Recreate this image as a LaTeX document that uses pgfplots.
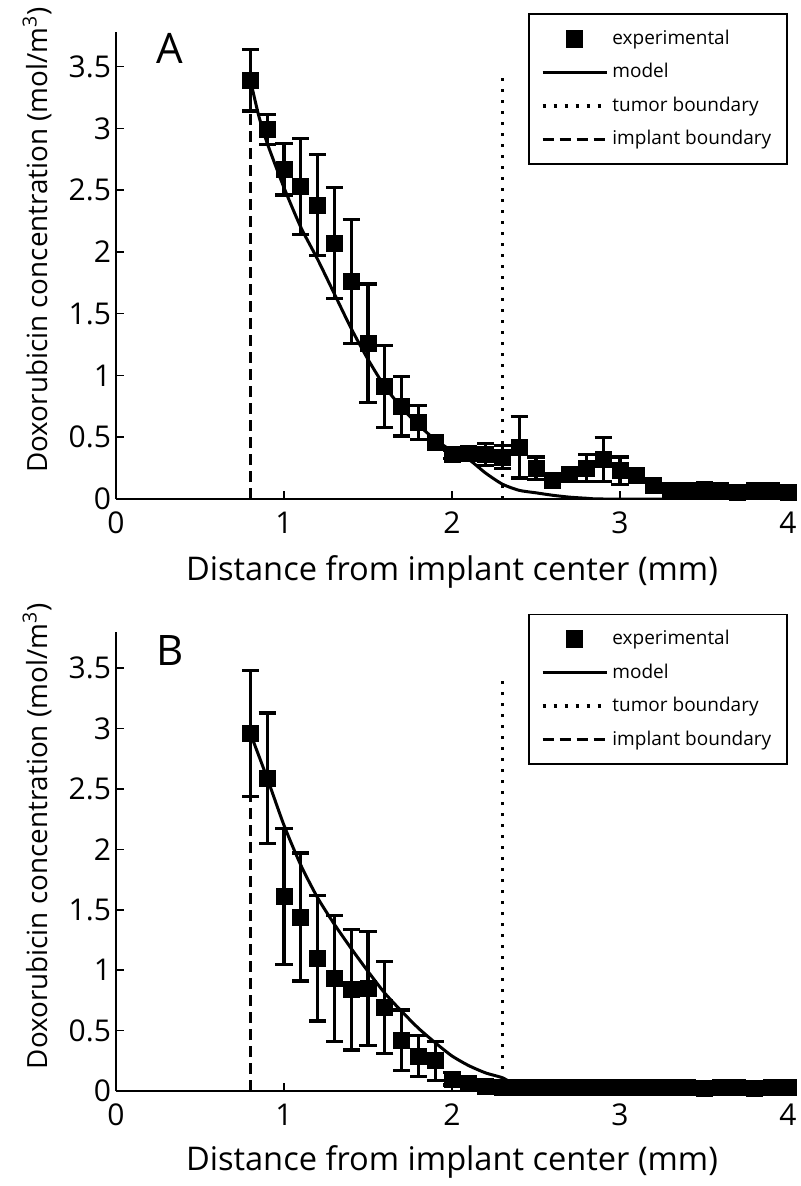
\documentclass[border=0pt]{standalone}
\usepackage{pgfplots}
\pgfplotsset{compat=1.18}
\usepackage{fontspec}
\setmainfont{Open Sans}

\pgfplotsset{
  panel/.style={
    scale only axis,
    width=336pt,
    xmin=0, xmax=4, ymin=0,
    axis x line*=bottom, axis y line*=left,
    axis line style={line width=0.8pt},
    tick style={line width=0.8pt, black},
    major tick length=4pt,
    tick align=inside,
    xtick={0,1,2,3,4},
    ytick={0,0.5,1,1.5,2,2.5,3,3.5},
    /pgf/number format/assume math mode=true,
    tick label style={font=\fontsize{15}{17}\selectfont},
    yticklabel style={xshift=1pt},
    xticklabel style={yshift=-3pt},
    xlabel style={font=\fontsize{16.3}{19}\selectfont},
    ylabel style={font=\fontsize{13.9}{16}\selectfont},
    xlabel={Distance from implant center (mm)},
    ylabel={Doxorubicin concentration (mol/m$^{\mathrm{3}}$)},
    ylabel style={at={(axis description cs:-0.1176,0.555)}, anchor=center},
    legend style={
      at={(1.0,1.04)}, anchor=north east, draw=black, line width=0.8pt,
      font=\fontsize{9.5}{11.5}\selectfont, row sep=4pt,
      inner xsep=6pt, inner ysep=6pt,
      /tikz/every even column/.append style={column sep=2pt},
      legend cell align=left,
    },
    legend image code/.code={\draw[mark repeat=2,mark phase=2,#1] plot coordinates {(0pt,0pt)(16pt,0pt)(32pt,0pt)};},
    exp/.style={only marks, mark=square*, mark size=4pt, black,
      error bars/.cd, y dir=both, y explicit,
      error bar style={line width=1.6pt, black},
      error mark options={rotate=90, mark size=4.3pt, line width=1.6pt, black}},
    mdl/.style={black, line width=1.5pt, mark=none},
    tb/.style={black, line width=1.8pt, dash pattern=on 1.7pt off 3.8pt, mark=none},
    ib/.style={black, line width=1.6pt, dash pattern=on 5.5pt off 3pt, mark=none},
  }
}

\begin{document}
\begin{tikzpicture}
\useasboundingbox (0pt,0pt) rectangle (400pt,-593pt);

% ---------------- Panel A ----------------
\begin{axis}[panel, at={(58pt,-249.5pt)}, anchor=south west,
  height=233.5pt, ymax=3.78,
  xlabel style={at={(axis description cs:0.5,0)}, anchor=center, yshift=-36.5pt}]
\addplot[exp] table[x=x, y=y, y error=e] {
x y e
0.8 3.39 0.25
0.9 2.99 0.12
1.0 2.67 0.21
1.1 2.53 0.39
1.2 2.38 0.41
1.3 2.07 0.45
1.4 1.76 0.50
1.5 1.26 0.48
1.6 0.91 0.33
1.7 0.75 0.24
1.8 0.62 0.14
1.9 0.46 0.04
2.0 0.36 0.03
2.1 0.37 0.03
2.2 0.36 0.09
2.3 0.34 0.09
2.4 0.42 0.25
2.5 0.25 0.09
2.6 0.15 0.02
2.7 0.20 0.03
2.8 0.25 0.11
2.9 0.32 0.18
3.0 0.23 0.11
3.1 0.19 0.03
3.2 0.11 0.02
3.3 0.07 0.01
3.4 0.07 0.01
3.5 0.08 0.01
3.6 0.07 0.01
3.7 0.05 0.01
3.8 0.07 0.01
3.9 0.07 0.01
4.0 0.05 0.01
};
\addlegendentry{experimental}
\addplot[mdl, smooth, tension=0.4] coordinates {
(0.8,3.39)(0.85,3.10)(0.9,2.88)(1.0,2.52)(1.1,2.20)(1.2,1.94)(1.3,1.66)(1.4,1.38)
(1.5,1.13)(1.6,0.91)(1.7,0.74)(1.8,0.60)(1.9,0.48)(2.0,0.39)(2.1,0.32)(2.2,0.21)
(2.3,0.12)(2.4,0.07)(2.5,0.05)(2.6,0.03)(2.7,0.015)(2.8,0.006)(2.9,0)(3.5,0)(4,0)};
\addlegendentry{model}
\addplot[tb] coordinates {(2.3,0)(2.3,3.47)};
\addlegendentry{tumor boundary}
\addplot[ib] coordinates {(0.8,0)(0.8,3.39)};
\addlegendentry{implant boundary}
\node[font=\fontsize{21}{24}\selectfont] at (rel axis cs:0.08,0.965) {A};
\end{axis}

% ---------------- Panel B ----------------
\begin{axis}[panel, at={(58pt,-545.5pt)}, anchor=south west,
  height=229.5pt, ymax=3.8,
  xlabel style={at={(axis description cs:0.5,0)}, anchor=center, yshift=-35.5pt}]
\addplot[exp] table[x=x, y=y, y error=e] {
x y e
0.8 2.96 0.52
0.9 2.59 0.54
1.0 1.61 0.56
1.1 1.44 0.53
1.2 1.10 0.52
1.3 0.93 0.52
1.4 0.84 0.50
1.5 0.85 0.47
1.6 0.69 0.38
1.7 0.42 0.25
1.8 0.29 0.17
1.9 0.25 0.16
2.0 0.10 0.05
2.1 0.06 0.02
2.2 0.04 0.01
2.3 0.03 0.01
2.4 0.03 0.01
2.5 0.03 0.01
2.6 0.03 0.01
2.7 0.03 0.01
2.8 0.03 0.01
2.9 0.03 0.01
3.0 0.03 0.01
3.1 0.03 0.01
3.2 0.03 0.01
3.3 0.03 0.01
3.4 0.03 0.01
3.5 0.02 0.01
3.6 0.03 0.01
3.7 0.03 0.01
3.8 0.02 0.01
3.9 0.03 0.01
4.0 0.03 0.01
};
\addlegendentry{experimental}
\addplot[mdl, smooth, tension=0.4] coordinates {
(0.8,2.96)(0.9,2.59)(1.0,2.20)(1.1,1.87)(1.2,1.60)(1.3,1.38)(1.4,1.18)(1.5,0.99)
(1.6,0.81)(1.7,0.66)(1.8,0.52)(1.9,0.40)(2.0,0.29)(2.1,0.21)(2.2,0.15)(2.3,0.11)
(2.35,0.07)(2.4,0.035)(2.45,0.012)(2.5,0)(3.2,0)(4,0)};
\addlegendentry{model}
\addplot[tb] coordinates {(2.3,0)(2.3,3.45)};
\addlegendentry{tumor boundary}
\addplot[ib] coordinates {(0.8,0)(0.8,2.96)};
\addlegendentry{implant boundary}
\node[font=\fontsize{21}{24}\selectfont] at (rel axis cs:0.08,0.96) {B};
\end{axis}
\end{tikzpicture}
\end{document}
